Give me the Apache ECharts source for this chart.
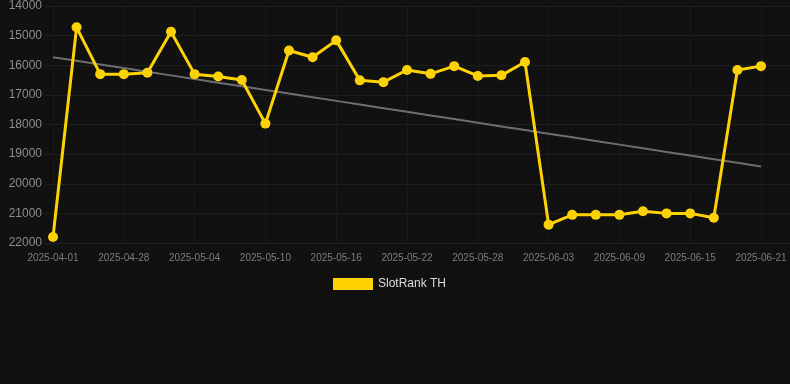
<!DOCTYPE html>
<html>
<head>
<meta charset="utf-8">
<script src="https://cdn.jsdelivr.net/npm/echarts@6/dist/echarts.min.js"></script>
<style>
html,body{margin:0;padding:0;background:#111111;}
#chart{width:790px;height:384px;}
</style>
</head>
<body>
<div id="chart"></div>
<script>
var dates = ['2025-04-01','2025-04-24','2025-04-26','2025-04-28','2025-04-30','2025-05-02','2025-05-04',
	'2025-05-06','2025-05-08','2025-05-10','2025-05-12','2025-05-14','2025-05-16','2025-05-18','2025-05-20',
	'2025-05-22','2025-05-24','2025-05-26','2025-05-28','2025-05-30','2025-06-01','2025-06-03','2025-06-05',
	'2025-06-07','2025-06-09','2025-06-11','2025-06-13','2025-06-15','2025-06-17','2025-06-19','2025-06-21'];
var ranks = [21800,14720,16300,16300,16250,14870,16300,16380,16500,17970,15500,15730,15160,16510,16570,
	16160,16290,16030,16360,16340,15890,21380,21050,21050,21050,20930,21000,21000,21150,16160,16030];
var yTicks = [14000,22000,1000];

// least squares trend over index
var n = ranks.length, sx = 0, sy = 0, sxy = 0, sxx = 0;
ranks.forEach(function(v, i){ sx += i; sy += v; sxy += i * v; sxx += i * i; });
var slope = (n * sxy - sx * sy) / (n * sxx - sx * sx);
var icpt = (sy - slope * sx) / n;
var trend = ranks.map(function(v, i){ return +(icpt + slope * i).toFixed(1); });

var chart = echarts.init(document.getElementById('chart'));
var option = {
	backgroundColor: '#111111',
	animation: false,
	grid: [
		{left: 45, right: 0, top: 6, bottom: 141},
		{left: 53, right: 29, top: 6, bottom: 141}
	],
	legend: {
		data: [{name: 'SlotRank TH', icon: 'rect'}],
		left: 328,
		top: 273,
		itemWidth: 40,
		itemHeight: 12,
		itemGap: 10,
		textStyle: {color: '#dddddd', fontSize: 12, fontFamily: 'Liberation Sans, Arial, sans-serif'}
	},
	xAxis: [
		{gridIndex: 0, type: 'value', min: 0, max: 1, show: false},
		{
			gridIndex: 1, type: 'category', data: dates, boundaryGap: false,
			axisLine: {lineStyle: {color: '#222222'}},
			axisTick: {show: false},
			axisLabel: {interval: 2, color: '#7c7c7c', fontSize: 10, margin: 10, fontFamily: 'Liberation Sans, Arial, sans-serif'},
			splitLine: {show: true, interval: 2, lineStyle: {color: '#191919'}}
		}
	],
	yAxis: [
		{
			gridIndex: 0, type: 'value', inverse: true, min: yTicks[0], max: yTicks[1], interval: yTicks[2],
			axisLine: {show: false}, axisTick: {show: false},
			axisLabel: {color: '#8c8c8c', fontSize: 12, margin: 3, fontFamily: 'Liberation Sans, Arial, sans-serif',
				formatter: function(v){ return String(v); }},
			splitLine: {lineStyle: {color: '#1e1e1e'}}
		},
		{
			gridIndex: 1, type: 'value', inverse: true, min: yTicks[0], max: yTicks[1], interval: yTicks[2],
			axisLine: {show: false}, axisTick: {show: false}, axisLabel: {show: false}, splitLine: {show: false}
		}
	],
	series: [
		{
			name: 'Trend', type: 'line', xAxisIndex: 1, yAxisIndex: 1, data: trend,
			showSymbol: false, silent: true,
			lineStyle: {color: '#6e6e6e', width: 2}
		},
		{
			name: 'SlotRank TH', type: 'line', xAxisIndex: 1, yAxisIndex: 1, data: ranks,
			symbol: 'circle', symbolSize: 10,
			itemStyle: {color: '#ffd200'},
			lineStyle: {color: '#ffd200', width: 3}
		}
	]
};
chart.setOption(option);
</script>
</body>
</html>
